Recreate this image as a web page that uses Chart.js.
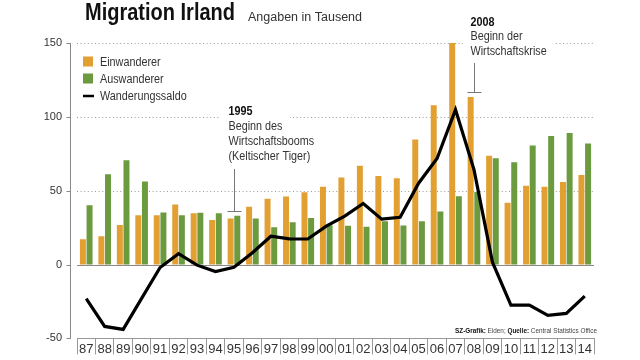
<!DOCTYPE html>
<html><head><meta charset="utf-8">
<script src="https://cdn.jsdelivr.net/npm/chart.js@4.4.0/dist/chart.umd.min.js"></script>
<style>html,body{margin:0;padding:0;background:#fff}#wrap{width:640px;height:360px;position:relative}</style>
</head><body><div id="wrap"><canvas id="c" width="640" height="360"></canvas></div>
<script>
const years = ['87','88','89','90','91','92','93','94','95','96','97','98','99','00','01','02','03','04','05','06','07','08','09','10','11','12','13','14'];
const einwanderer = [17.2,19.2,26.7,33.3,33.3,40.7,34.7,30.1,31.2,39.2,44.5,46.0,48.9,52.6,59.0,66.9,60.0,58.5,84.6,107.8,151.1,113.5,73.7,41.8,53.3,52.7,55.9,60.6];
const auswanderer = [40.2,61.1,70.6,56.3,35.3,33.4,35.1,34.8,33.1,31.2,25.3,28.6,31.5,26.6,26.2,25.6,29.3,26.5,29.4,36.0,46.3,49.2,72.0,69.2,80.6,87.1,89.0,81.9];
const saldo = [-23.0,-41.9,-43.9,-22.9,-2.0,7.4,-0.4,-4.7,-1.9,8.0,19.2,17.4,17.3,26.0,32.8,41.3,30.7,32.0,55.1,71.8,104.8,64.3,1.6,-27.5,-27.4,-34.4,-33.1,-21.4];
const yTicks = [-50, 0, 50, 100, 150];
const seriesNames = ['Einwanderer', 'Auswanderer', 'Wanderungssaldo'];
const note1995 = ['1995', 'Beginn des', 'Wirtschaftsbooms', '(Keltischer Tiger)'];
const note2008 = ['2008', 'Beginn der', 'Wirtschaftskrise'];
const titleText = 'Migration Irland';
const subtitleText = 'Angaben in Tausend';
const sourceParts = [['SZ-Grafik:', true], [' Eiden; ', false], ['Quelle:', true], [' Central Statistics Office', false]];

const ORANGE = '#E2A033';
const GREEN = '#6B9A3F';
const SANS = '"Liberation Sans", Arial, sans-serif';
const SX = 0.9;

function narrowText(ctx, t, x, y, font, color, sx) {
  ctx.font = font;
  ctx.save();
  ctx.translate(x, y);
  ctx.scale(sx, 1);
  ctx.fillStyle = color;
  ctx.textAlign = 'left';
  ctx.textBaseline = 'alphabetic';
  ctx.fillText(t, 0, 0);
  ctx.restore();
  return ctx.measureText(t).width * sx;
}

function drawNote(ctx, lines, x, firstBase, lh) {
  lines.forEach((t, i) => {
    ctx.font = (i === 0 ? 'bold ' : '') + '12px ' + SANS;
    const w = ctx.measureText(t).width * SX;
    const by = firstBase + i * lh;
    ctx.fillStyle = '#fff';
    ctx.fillRect(x - 7.5, by - 13.5, w + 15, 15.5);
  });
  lines.forEach((t, i) => {
    narrowText(ctx, t, x, firstBase + i * lh, (i === 0 ? 'bold ' : '') + '12px ' + SANS, i === 0 ? '#111' : '#333', SX);
  });
}

function drawLeader(ctx, x, top, bottom) {
  ctx.strokeStyle = '#777';
  ctx.lineWidth = 1;
  ctx.setLineDash([]);
  const px = Math.round(x) + 0.5;
  const pb = Math.round(bottom) + 0.5;
  ctx.beginPath();
  ctx.moveTo(px, top); ctx.lineTo(px, pb);
  ctx.moveTo(px - 7, pb); ctx.lineTo(px + 7, pb);
  ctx.stroke();
}

const deco = {
  id: 'deco',
  beforeDatasetsDraw(chart) {
    const {ctx, chartArea: a, scales: {x, y}} = chart;
    ctx.save();
    yTicks.forEach(v => {
      if (v <= -50) return;
      const py = Math.round(y.getPixelForValue(v)) + 0.5;
      ctx.beginPath();
      ctx.lineWidth = 1;
      if (v === 0) { ctx.setLineDash([]); ctx.strokeStyle = '#8a8a8a'; }
      else { ctx.setLineDash([1, 2.6]); ctx.strokeStyle = '#9a9a9a'; }
      ctx.moveTo(a.left, py); ctx.lineTo(a.right, py); ctx.stroke();
    });
    ctx.setLineDash([]);
    ctx.strokeStyle = '#888';
    const ax = Math.round(a.left - 7) + 0.5;
    ctx.beginPath();
    ctx.moveTo(ax, Math.round(y.getPixelForValue(150)));
    ctx.lineTo(ax, Math.round(y.getPixelForValue(-50)) + 1);
    ctx.stroke();
    yTicks.forEach(v => {
      const py = Math.round(y.getPixelForValue(v)) + 0.5;
      ctx.beginPath(); ctx.moveTo(ax - 4, py); ctx.lineTo(ax, py); ctx.stroke();
    });
    const i95 = years.indexOf('95');
    const x95 = x.getPixelForValue(i95);
    const top95 = y.getPixelForValue(Math.max(einwanderer[i95], auswanderer[i95]));
    drawNote(ctx, note1995, x95 - 5.5, 115, 15);
    drawLeader(ctx, x95, 169, top95 - 4.5);
    const i08 = years.indexOf('08');
    const x08 = x.getPixelForValue(i08);
    const top08 = y.getPixelForValue(Math.max(einwanderer[i08], auswanderer[i08]));
    drawNote(ctx, note2008, x08 - 3.5, 25.5, 14.6);
    drawLeader(ctx, x08, 63, top08 - 4.5);
    ctx.restore();
  },
  afterDraw(chart) {
    const ctx = chart.ctx;
    ctx.save();
    ctx.textAlign = 'left';
    ctx.textBaseline = 'alphabetic';
    ctx.font = 'bold 22px ' + SANS;
    const tw = ctx.measureText(titleText).width;
    ctx.save();
    ctx.translate(85, 19.5);
    ctx.scale(150 / tw, 1.05);
    ctx.fillStyle = '#111';
    ctx.fillText(titleText, 0, 0);
    ctx.restore();
    ctx.font = '12.5px ' + SANS;
    ctx.fillStyle = '#333';
    ctx.fillText(subtitleText, 248, 20.5);
    // legend
    ctx.fillStyle = ORANGE; ctx.fillRect(83, 56.5, 10, 10);
    ctx.fillStyle = GREEN; ctx.fillRect(83, 73.5, 10, 10);
    ctx.strokeStyle = '#000'; ctx.lineWidth = 2.5; ctx.beginPath();
    ctx.moveTo(83, 96); ctx.lineTo(94, 96); ctx.stroke();
    const lf = '12px ' + SANS;
    narrowText(ctx, seriesNames[0], 100, 66, lf, '#333', SX);
    narrowText(ctx, seriesNames[1], 100, 83, lf, '#333', SX);
    narrowText(ctx, seriesNames[2], 100, 100.3, lf, '#333', SX);
    // source
    let total = 0;
    sourceParts.forEach(([t, b]) => { ctx.font = (b ? 'bold ' : '') + '7px ' + SANS; total += ctx.measureText(t).width; });
    ctx.save();
    ctx.translate(455, 333);
    ctx.scale(142 / total, 1);
    let cx = 0;
    sourceParts.forEach(([t, b]) => {
      ctx.font = (b ? 'bold ' : '') + '7px ' + SANS;
      ctx.fillStyle = b ? '#111' : '#444';
      ctx.fillText(t, cx, 0);
      cx += ctx.measureText(t).width;
    });
    ctx.restore();
    ctx.restore();
  }
};

new Chart(document.getElementById('c'), {
  type: 'bar',
  data: {
    labels: years,
    datasets: [
      {type: 'line', label: seriesNames[2], data: saldo, borderColor: '#000', backgroundColor: '#000', borderWidth: 3.2, pointRadius: 0, tension: 0, order: 0},
      {label: seriesNames[0], data: einwanderer, backgroundColor: ORANGE, barPercentage: 0.9, categoryPercentage: 0.72, order: 1},
      {label: seriesNames[1], data: auswanderer, backgroundColor: GREEN, barPercentage: 0.9, categoryPercentage: 0.72, order: 1}
    ]
  },
  options: {
    responsive: false,
    animation: false,
    layout: {padding: {left: 0, right: 46, top: 43, bottom: 0}},
    plugins: {legend: {display: false}, tooltip: {enabled: false}, title: {display: false}},
    scales: {
      x: {
        grid: {display: true, offset: true, drawOnChartArea: false, drawTicks: true, tickLength: 16, color: '#999', tickColor: '#999'},
        border: {display: true, color: '#999'},
        ticks: {font: {family: SANS, size: 13}, color: '#333', padding: -13, maxRotation: 0, autoSkip: false},
        afterFit(s) { s.height = 21; }
      },
      y: {
        min: -50, max: 150,
        afterBuildTicks(s) { s.ticks = yTicks.map(v => ({value: v})); },
        grid: {display: false, drawTicks: false},
        border: {display: false},
        ticks: {font: {family: SANS, size: 11}, color: '#333', padding: 15},
        afterFit(s) { s.width = 77; }
      }
    }
  },
  plugins: [deco]
});
</script>
</body></html>
